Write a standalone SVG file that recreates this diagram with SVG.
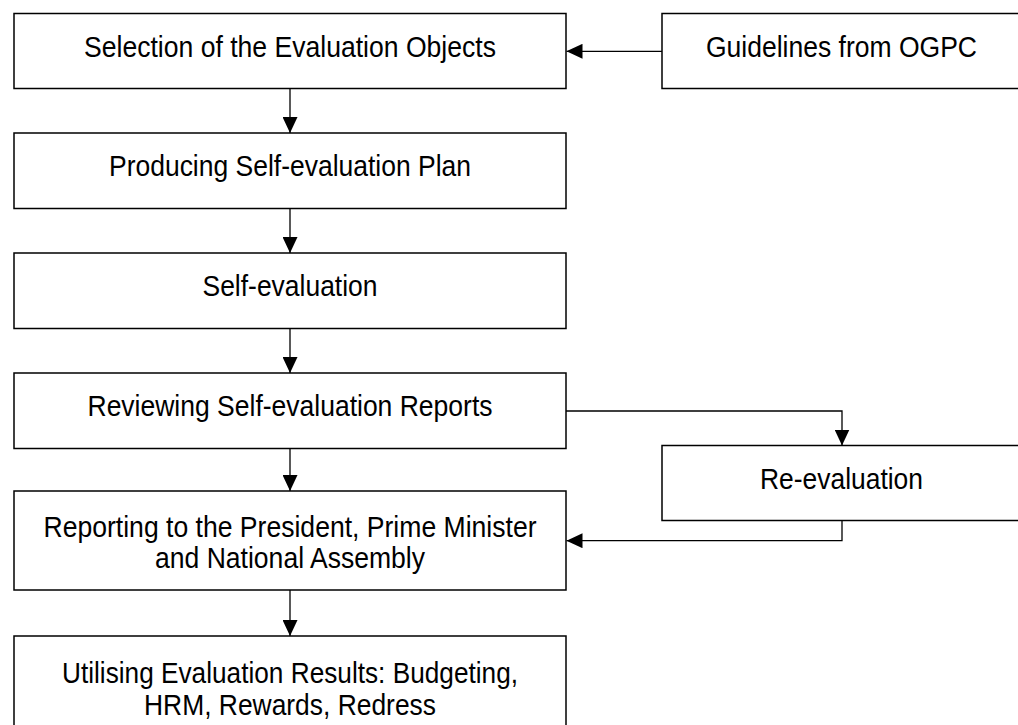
<svg xmlns="http://www.w3.org/2000/svg" width="1018" height="725" viewBox="0 0 1018 725">
  <style>
    .box { fill: #ffffff; stroke: #000000; stroke-width: 1.5; }
    .label { font-family: "Liberation Sans", Arial, sans-serif; font-size: 29px; fill: #000000; text-anchor: middle; }
    .link { fill: none; stroke: #000000; stroke-width: 1.3; marker-end: url(#head); }
  </style>
  <defs>
    <marker id="head" markerUnits="userSpaceOnUse" markerWidth="16" markerHeight="15" refX="16" refY="7.5" orient="auto">
      <path d="M0,0 L16,7.5 L0,15 Z" fill="#000000"/>
    </marker>
  </defs>

  <rect width="1018" height="725" fill="#ffffff"/>

  <g id="connectors">
    <path class="link" d="M662,51.3 H566.5"/>
    <path class="link" d="M290,88.5 V133"/>
    <path class="link" d="M290,208.5 V253"/>
    <path class="link" d="M290,328.5 V373"/>
    <path class="link" d="M290,448.5 V491"/>
    <path class="link" d="M290,590 V636"/>
    <path class="link" d="M566,411 H842 V445.5"/>
    <path class="link" d="M842,520.5 V540.7 H566.5"/>
  </g>

  <g id="selection">
    <rect class="box" x="14" y="13.5" width="552" height="75"/>
    <text class="label" x="290" y="56.5" textLength="412" lengthAdjust="spacingAndGlyphs">Selection of the Evaluation Objects</text>
  </g>

  <g id="guidelines">
    <rect class="box" x="662" y="13.5" width="360" height="75"/>
    <text class="label" x="841.5" y="56.5" textLength="271" lengthAdjust="spacingAndGlyphs">Guidelines from OGPC</text>
  </g>

  <g id="plan">
    <rect class="box" x="14" y="133" width="552" height="75.5"/>
    <text class="label" x="290" y="176" textLength="362" lengthAdjust="spacingAndGlyphs">Producing Self-evaluation Plan</text>
  </g>

  <g id="self-evaluation">
    <rect class="box" x="14" y="253" width="552" height="75.5"/>
    <text class="label" x="290" y="296" textLength="175" lengthAdjust="spacingAndGlyphs">Self-evaluation</text>
  </g>

  <g id="reviewing">
    <rect class="box" x="14" y="373" width="552" height="75.5"/>
    <text class="label" x="290" y="416" textLength="405" lengthAdjust="spacingAndGlyphs">Reviewing Self-evaluation Reports</text>
  </g>

  <g id="re-evaluation">
    <rect class="box" x="662" y="445.5" width="360" height="75"/>
    <text class="label" x="841.5" y="488.5" textLength="163" lengthAdjust="spacingAndGlyphs">Re-evaluation</text>
  </g>

  <g id="reporting">
    <rect class="box" x="14" y="491" width="552" height="99"/>
    <text class="label" x="290" y="536.5" textLength="493" lengthAdjust="spacingAndGlyphs">Reporting to the President, Prime Minister</text>
    <text class="label" x="290" y="568" textLength="270" lengthAdjust="spacingAndGlyphs">and National Assembly</text>
  </g>

  <g id="utilising">
    <rect class="box" x="14" y="636" width="552" height="99"/>
    <text class="label" x="290" y="683" textLength="456" lengthAdjust="spacingAndGlyphs">Utilising Evaluation Results: Budgeting,</text>
    <text class="label" x="290" y="714.5" textLength="292" lengthAdjust="spacingAndGlyphs">HRM, Rewards, Redress</text>
  </g>
</svg>
